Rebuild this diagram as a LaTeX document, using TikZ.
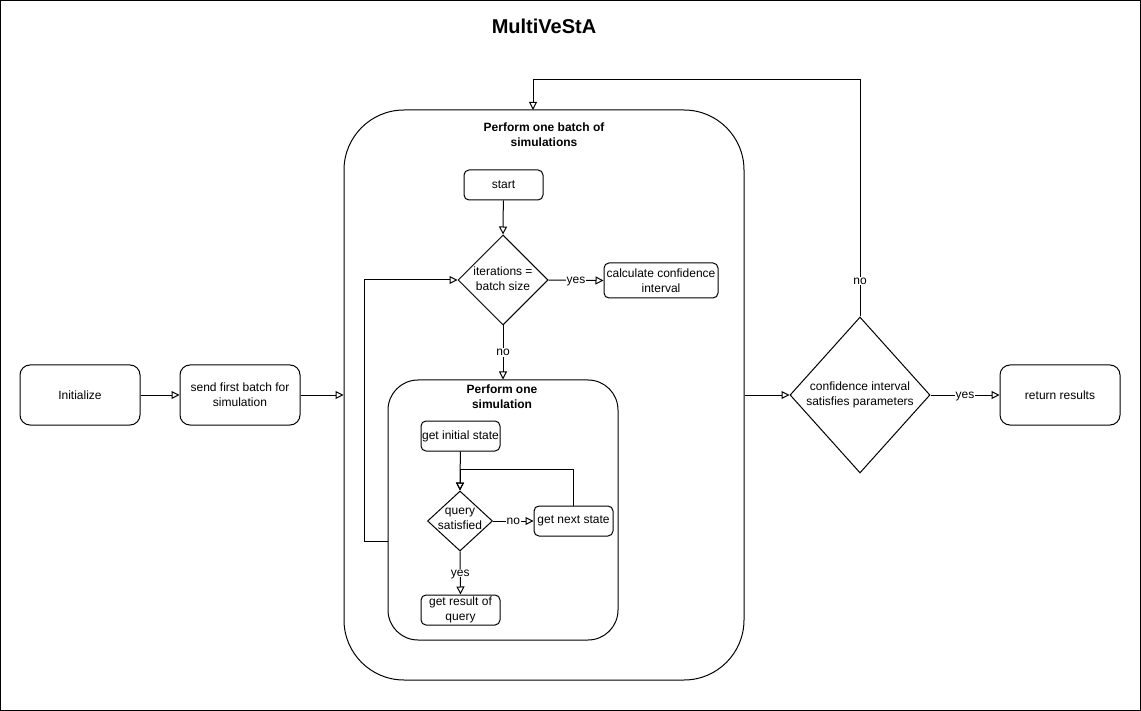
\documentclass[tikz,border=0pt]{standalone}
\usepackage{fontspec}
\setmainfont{Liberation Sans}
\usetikzlibrary{arrows.meta,shapes.geometric}
\begin{document}
\begin{tikzpicture}[x=1pt,y=-1pt,line width=1pt,
  every node/.style={font=\fontsize{12}{15}\selectfont,align=center,inner sep=0pt},
  box/.style={draw,rounded corners=10pt,minimum width=120pt,minimum height=60pt},
  sbox/.style={draw,rounded corners=5pt,minimum width=79pt,minimum height=30pt},
  dia/.style={draw,diamond,inner sep=0pt},
  lab/.style={fill=white,inner sep=1pt,text height=6.5pt,text depth=0pt},
  ttl/.style={font=\fontsize{12}{15}\selectfont\bfseries},
  arr/.style={-{Triangle[open,length=8pt,width=8pt]}}]
\useasboundingbox (0,0) rectangle (1141,711);
\draw (0.5,0.5) rectangle (1140.5,710.5);
\node[font=\fontsize{20}{24}\selectfont\bfseries] (title) at (544,26) {MultiVeStA};

\node[box] (init) at (80,395) {Initialize};
\node[box] (send) at (240,395) {send first batch for\\simulation};
\node[draw,rounded corners=60pt,minimum width=400pt,minimum height=570pt] (batch) at (544,395) {};
\node[ttl] (batchttl) at (544,135) {Perform one batch of\\simulations};
\node[sbox] (start) at (503.5,185) {start};
\node[dia,minimum width=90pt,minimum height=90pt] (iter) at (503,280) {};
\node (itertxt) at (503,278.5) {iterations =\\batch size};
\node[draw,rounded corners=5pt,minimum width=114pt,minimum height=35pt] (calc) at (661,280.5) {calculate confidence\\interval};

\node[draw,rounded corners=30pt,minimum width=230pt,minimum height=260pt] (sim) at (503,510) {};
\node[ttl] (simttl) at (502,397) {Perform one\\simulation};
\node[sbox] (initst) at (460.5,436) {get initial state};
\node[dia,minimum width=65pt,minimum height=60pt] (query) at (460,521) {};
\node (querytxt) at (460,519) {query\\satisfied};
\node[sbox] (next) at (573.5,521) {get next state};
\node[sbox] (result) at (460.5,610) {get result of\\query};

\node[dia,minimum width=140pt,minimum height=156pt] (dec) at (860,395) {};
\node (dectxt) at (860,395) {confidence interval\\satisfies parameters};
\node[box] (ret) at (1060,395) {return results};

\coordinate (loopc) at (460,469);
\coordinate (simout) at (388,541);
\coordinate (topc) at (533,80);
\coordinate (batchin) at (533,110);

\draw[arr] (init) -- (send);
\draw[arr] (send) -- (batch.west);
\draw[arr] (start) -- (iter.north);
\draw[arr] (iter.east) -- node[lab] (yes1) {yes} (calc.west);
\draw[arr] (iter.south) -- node[lab] (no1) {no} (sim.north);
\draw[arr] (initst) -- (query.north);
\draw[arr] (query.east) -- node[lab] (no2) {no} (next.west);
\draw[arr] (next.north) |- (loopc) -- (query.north);
\draw[arr] (query.south) -- node[lab] (yes2) {yes} (result.north);
\draw[arr] (simout) -- ++(-24,0) |- (iter.west);
\draw[arr] (batch.east) -- (dec.west);
\draw[arr] (dec.east) -- node[lab] (yes3) {yes} (ret.west);
\draw[arr] (dec.north) |- (topc) -- (batchin);
\node[lab] (no3) at (860,281) {no};
\end{tikzpicture}
\end{document}
